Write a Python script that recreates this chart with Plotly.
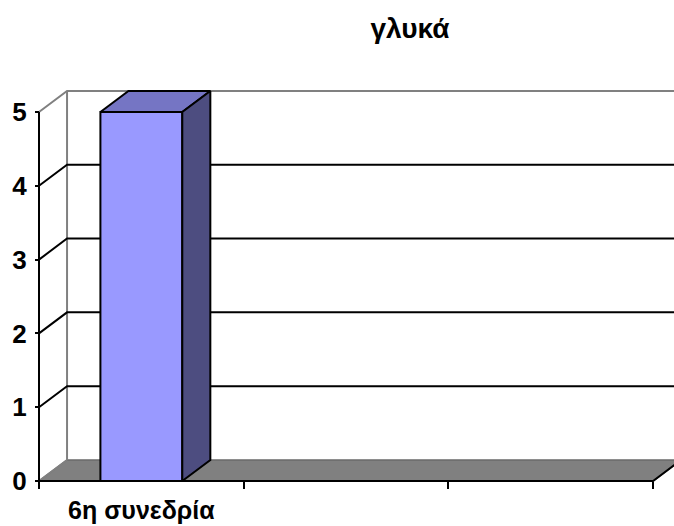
import plotly.graph_objects as go

# data
categories = ["6η συνεδρία", "", ""]
values = [5, None, None]
y_ticks = [0, 1, 2, 3, 4, 5]
title_text = "γλυκά"

# 3d look (depth offset in data units)
dx, dy = 0.137, 0.285
bar_w = 0.4
n = len(categories)
x_lo, x_hi = -0.5, n - 0.5
y_top = max(y_ticks)

front_col = "#9999ff"
top_col = "#7575c4"
side_col = "#4d4d80"
grey = "#808080"

fig = go.Figure()

shapes = []
# floor
shapes.append(dict(type="path", xref="x", yref="y", layer="below",
                   path=f"M {x_lo},0 L {x_hi},0 L {x_hi+dx},{dy} L {x_lo+dx},{dy} Z",
                   fillcolor=grey, line=dict(color="#6a6a6a", width=1.5)))
# back wall left edge
shapes.append(dict(type="line", xref="x", yref="y", layer="below",
                   x0=x_lo + dx, y0=dy, x1=x_lo + dx, y1=y_top + dy,
                   line=dict(color=grey, width=2)))
# gridlines on side + back wall
for v in y_ticks[1:]:
    col = grey if v == y_top else "black"
    shapes.append(dict(type="path", xref="x", yref="y", layer="below",
                       path=f"M {x_lo},{v} L {x_lo+dx},{v+dy} L {x_hi+dx+0.2},{v+dy}",
                       line=dict(color=col, width=2)))
# left floor edge
shapes.append(dict(type="line", xref="x", yref="y", layer="below",
                   x0=x_lo, y0=0, x1=x_lo + dx, y1=dy,
                   line=dict(color=grey, width=2)))
# axis lines
shapes.append(dict(type="line", xref="x", yref="y", layer="below",
                   x0=x_lo, y0=0, x1=x_lo, y1=y_top,
                   line=dict(color="black", width=2)))
shapes.append(dict(type="path", xref="x", yref="y", layer="below",
                   path=f"M {x_lo},0 L {x_hi},0 L {x_hi+dx},{dy}",
                   line=dict(color="black", width=2)))

# front faces
xs = list(range(n))
fig.add_trace(go.Bar(x=xs, y=values, width=bar_w,
                     marker=dict(color=front_col, line=dict(color="black", width=2)),
                     hoverinfo="skip"))

# top and side faces
for i, v in enumerate(values):
    if v is None:
        continue
    x0, x1 = i - bar_w / 2, i + bar_w / 2
    fig.add_trace(go.Scatter(x=[x0, x1, x1 + dx, x0 + dx, x0],
                             y=[v, v, v + dy, v + dy, v],
                             mode="lines", fill="toself", fillcolor=top_col,
                             line=dict(color="black", width=2), hoverinfo="skip"))
    fig.add_trace(go.Scatter(x=[x1, x1 + dx, x1 + dx, x1, x1],
                             y=[0, dy, v + dy, v, 0],
                             mode="lines", fill="toself", fillcolor=side_col,
                             line=dict(color="black", width=2), hoverinfo="skip"))

# pixel layout: plot area 33..674 x 88..486
L, R, T, B = 33, 0, 88, 40
W, H = 674, 526
px_per_x = 204.7
px_per_y = 73.8
xmin = x_lo - 6 / px_per_x
xmax = x_lo + (674 - 39) / px_per_x
ymin = -5 / px_per_y
ymax = (481 - 88) / px_per_y

font = "Arial, 'Liberation Sans', sans-serif"

fig.update_layout(
    width=W, height=H,
    margin=dict(l=L, r=R, t=T, b=B, autoexpand=False),
    paper_bgcolor="white", plot_bgcolor="white",
    showlegend=False,
    shapes=shapes,
    title=dict(text=f"<b>{title_text}</b>", x=410 / W, xanchor="center",
               y=1 - 18 / H, yanchor="top",
               font=dict(family=font, size=28, color="black")),
    xaxis=dict(range=[xmin, xmax], showgrid=False, zeroline=False, showline=False,
               automargin=False,
               tickmode="array", tickvals=xs, ticktext=[f"<b>{c}</b>" for c in categories],
               ticks="", anchor="free", position=5 / (526 - T - B),
               ticklabelstandoff=12,
               tickfont=dict(family=font, size=25, color="black"),
               minor=dict(tickmode="linear", tick0=x_lo, dtick=1, ticks="outside",
                          ticklen=7, tickwidth=2, tickcolor="black", showgrid=False)),
    yaxis=dict(range=[ymin, ymax], showgrid=False, zeroline=False, showline=False,
               automargin=False,
               tickmode="array", tickvals=y_ticks, ticktext=[f"<b>{t}</b>" for t in y_ticks],
               ticks="outside", ticklen=4, tickwidth=2, tickcolor="black",
               anchor="free", position=6 / (W - L - R),
               ticklabelstandoff=3,
               tickfont=dict(family=font, size=26, color="black")),
)

fig.write_html("out.html", config={"displayModeBar": False},
               post_script="document.body.style.margin='0';")
